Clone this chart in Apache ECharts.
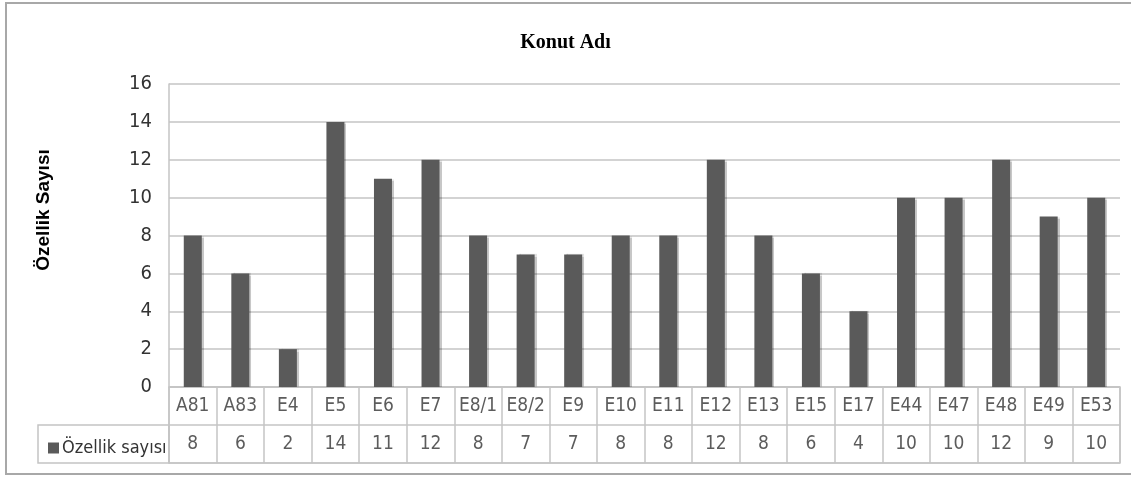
<!DOCTYPE html>
<html>
<head>
<meta charset="utf-8">
<script src="https://cdn.jsdelivr.net/npm/echarts@6/dist/echarts.min.js"></script>
<style>
  html, body { margin: 0; padding: 0; background: #fff; }
  #chart { width: 1131px; height: 477px; }
</style>
</head>
<body>
<div id="chart"></div>
<script>
// konut adlari ve ozellik sayilari
var konutlar = ['A81', 'A83', 'E4', 'E5', 'E6', 'E7', 'E8/1', 'E8/2', 'E9', 'E10',
                'E11', 'E12', 'E13', 'E15', 'E17', 'E44', 'E47', 'E48', 'E49', 'E53'];
var ozellikSayisi = [8, 6, 2, 14, 11, 12, 8, 7, 7, 8, 8, 12, 8, 6, 4, 10, 10, 12, 9, 10];
var tabloSatirlari = ['deger', 'konut'];

var serif = '"Liberation Serif", "Times New Roman", serif';
var dar = '"Liberation Sans Narrow", "DejaVu Sans Condensed", "Liberation Sans", sans-serif';
var lineGray = '#c4c4c4';

var myChart = echarts.init(document.getElementById('chart'));

var option = {
  animation: false,
  backgroundColor: '#fff',
  title: {
    text: 'Konut Adı',
    left: 'center',
    top: 28,
    textStyle: { fontFamily: serif, fontWeight: 'bold', fontSize: 20, color: '#000' }
  },
  legend: {
    data: ['Özellik sayısı'],
    left: 43,
    top: 434,
    icon: 'rect',
    itemWidth: 11,
    itemHeight: 11,
    itemGap: 4,
    textStyle: { fontFamily: dar, fontSize: 18, color: '#333', padding: [0, 0, 0, -2] }
  },
  grid: [
    { left: 169, right: 11, top: 84, height: 303 },
    { left: 169, right: 11, top: 387, height: 76, show: true, borderColor: lineGray, borderWidth: 1.5 }
  ],
  xAxis: [
    {
      type: 'category', gridIndex: 0, data: konutlar,
      axisLine: { show: false }, axisTick: { show: false }, axisLabel: { show: false }
    },
    {
      type: 'category', gridIndex: 1, data: konutlar,
      axisLine: { show: false }, axisTick: { show: false }, axisLabel: { show: false },
      splitLine: { show: true, interval: 0, lineStyle: { color: lineGray, width: 1.5 } }
    }
  ],
  yAxis: [
    {
      type: 'value', gridIndex: 0, min: 0, max: 16, interval: 2,
      axisLine: { show: true, lineStyle: { color: lineGray, width: 1.5 } },
      axisTick: { show: false },
      axisLabel: { fontFamily: dar, fontSize: 20, color: '#333', margin: 17 },
      splitLine: { lineStyle: { color: lineGray, width: 1.5 } }
    },
    {
      type: 'category', gridIndex: 1, data: tabloSatirlari,
      axisLine: { show: false }, axisTick: { show: false }, axisLabel: { show: false },
      splitLine: { show: true, interval: 0, lineStyle: { color: lineGray, width: 1.5 } }
    }
  ],
  series: [
    {
      name: 'Özellik sayısı',
      type: 'bar',
      xAxisIndex: 0, yAxisIndex: 0,
      data: ozellikSayisi,
      barWidth: 18,
      itemStyle: {
        color: '#5a5a5a',
        shadowColor: 'rgba(0,0,0,0.22)',
        shadowOffsetX: 2,
        shadowBlur: 1
      }
    },
    {
      name: 'konut',
      type: 'scatter',
      xAxisIndex: 1, yAxisIndex: 1,
      symbolSize: 1,
      itemStyle: { color: 'transparent' },
      data: konutlar.map(function (k, i) { return [i, 'konut']; }),
      label: {
        show: true, position: 'inside',
        formatter: function (p) { return konutlar[p.dataIndex]; },
        fontFamily: dar, fontSize: 19, color: '#333'
      }
    },
    {
      name: 'deger',
      type: 'scatter',
      xAxisIndex: 1, yAxisIndex: 1,
      symbolSize: 1,
      itemStyle: { color: 'transparent' },
      data: ozellikSayisi.map(function (v, i) { return [i, 'deger']; }),
      label: {
        show: true, position: 'inside',
        formatter: function (p) { return ozellikSayisi[p.dataIndex]; },
        fontFamily: dar, fontSize: 19, color: '#333'
      }
    }
  ],
  graphic: [
    {
      type: 'rect', silent: true,
      shape: { x: 6, y: 3, width: 1130, height: 471 },
      style: { fill: 'none', stroke: '#a8a8a8', lineWidth: 2 }
    },
    {
      type: 'rect', silent: true,
      shape: { x: 38, y: 425, width: 131, height: 38 },
      style: { fill: 'none', stroke: lineGray, lineWidth: 1.5 }
    },
    {
      type: 'text', silent: true,
      x: 44, y: 210, rotation: Math.PI / 2,
      style: {
        text: 'Özellik Sayısı',
        font: 'bold 19px "Liberation Sans", Arial, sans-serif',
        fill: '#000', align: 'center', verticalAlign: 'middle'
      }
    }
  ]
};

myChart.setOption(option);
window.addEventListener('resize', function () {
  myChart.resize();
});
</script>
</body>
</html>
